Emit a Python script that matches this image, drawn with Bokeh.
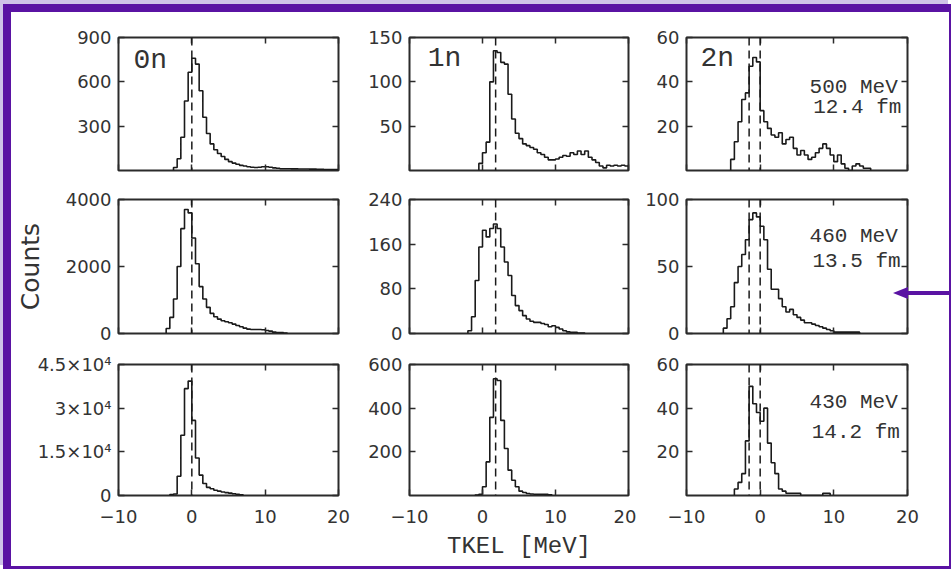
import numpy as np
from bokeh.plotting import figure
from bokeh.layouts import gridplot
from bokeh.models import Range1d, LinearAxis, FixedTicker, Span, Label, CustomLabelingPolicy, InlineStyleSheet
from bokeh.embed import file_html
from bokeh.resources import INLINE

# ---------------- data ----------------
BIN_WIDTH = 0.5
x_ticks = [-10, 0, 10, 20]
x_tick_labels = ["\u221210", "0", "10", "20"]

# 500 MeV, 12.4 fm
start_0n_500 = -2.5
counts_0n_500 = [20, 80, 225, 470, 665, 760, 720, 540, 360, 250,
                 180, 140, 115, 95, 75, 60, 50, 42, 35, 30,
                 25, 22, 20, 22, 25, 25, 22, 18, 15, 12,
                 12, 12, 11, 11, 10, 10, 10, 9, 9, 8,
                 8, 7, 7, 6, 6]
start_1n_500 = -0.5
counts_1n_500 = [8, 20, 32, 100, 135, 133, 122, 120, 86, 58,
                 42, 36, 30, 28, 26, 24, 20, 18, 15, 12,
                 12, 13, 15, 17, 16, 20, 18, 22, 18, 22,
                 15, 12, 9, 5, 3, 6, 5, 6, 5, 6, 5]
start_2n_500 = -4.0
counts_2n_500 = [5, 13, 22, 32, 35, 47, 51, 49, 27, 22,
                 19, 16, 15, 17, 12, 14, 15, 10, 7, 9,
                 7, 5, 6, 8, 10, 12, 10, 7, 4, 7,
                 3, 1, 0, 2, 3, 2, 1, 1]

# 460 MeV, 13.5 fm
start_0n_460 = -3.5
counts_0n_460 = [150, 480, 1030, 2000, 3130, 3700, 3600, 2850, 2080, 1400,
                 1030, 780, 600, 500, 430, 380, 350, 320, 280, 240,
                 200, 160, 130, 120, 120, 120, 110, 90, 70, 40,
                 30, 25, 15]
start_1n_460 = -2.0
counts_1n_460 = [5, 30, 95, 155, 185, 173, 188, 196, 188, 155,
                 128, 104, 68, 50, 41, 32, 26, 22, 20, 20,
                 18, 16, 12, 14, 11, 8, 5, 3, 2, 2, 1, 1]
start_2n_460 = -5.0
counts_2n_460 = [4, 11, 20, 38, 50, 59, 70, 85, 90, 87,
                 80, 70, 48, 33, 33, 26, 20, 16, 18, 14,
                 12, 10, 8, 8, 7, 6, 5, 4, 3, 2,
                 1, 1, 1, 1, 1, 1, 1]

# 430 MeV, 14.2 fm
start_0n_430 = -3.0
counts_0n_430 = [300, 500, 6600, 20700, 36700, 39300, 25800, 12900, 7000, 4100,
                 2800, 2300, 1800, 1500, 1200, 1000, 800, 600, 400, 200]
start_1n_430 = -1.0
counts_1n_430 = [2, 6, 40, 154, 358, 535, 527, 344, 215, 116,
                 70, 40, 20, 14, 9, 7, 6, 6, 6, 5, 3]
start_2n_430 = -3.5
counts_2n_430 = [3, 6, 10, 25, 50, 42, 38, 34, 40, 24,
                 15, 10, 3, 2, 1, 1, 1, 1, 0, 0,
                 0, 0, 0, 0, 1, 1]

# y axes: maxima, ticks, labels
ymax_rows = [[900, 150, 60], [4000, 240, 100], [45000, 600, 60]]
yticks_rows = [
    [[300, 600, 900], [50, 100, 150], [20, 40, 60]],
    [[0, 2000, 4000], [0, 80, 160, 240], [0, 50, 100]],
    [[0, 15000, 30000, 45000], [200, 400, 600], [20, 40, 60]],
]
ylabels_rows = [
    [["300", "600", "900"], ["50", "100", "150"], ["20", "40", "60"]],
    [["0", "2000", "4000"], ["0", "80", "160", "240"], ["0", "50", "100"]],
    [["0", "1.5\u00d710\u2074", "3\u00d710\u2074", "4.5\u00d710\u2074"], ["200", "400", "600"], ["20", "40", "60"]],
]
ref_lines = [[0.0], [1.8], [-1.5, 0.0]]          # dashed reference lines per column
neutron_labels = ["0n", "1n", "2n"]
energy_labels = ["500 MeV", "460 MeV", "430 MeV"]
distance_labels = ["12.4 fm", "13.5 fm", "14.2 fm"]

counts = [[counts_0n_500, counts_1n_500, counts_2n_500],
          [counts_0n_460, counts_1n_460, counts_2n_460],
          [counts_0n_430, counts_1n_430, counts_2n_430]]
starts = [[start_0n_500, start_1n_500, start_2n_500],
          [start_0n_460, start_1n_460, start_2n_460],
          [start_0n_430, start_1n_430, start_2n_430]]

# ---------------- styling / layout ----------------
PURPLE = "#5a13a3"
INK = "#2b2b2b"
TICK_FONT = "DejaVu Sans"
MONO = "Liberation Mono"

col_geo = [(107, 220, 12), (59, 219, 8), (50, 221, 42)]   # border_left, frame_w, border_right
row_geo = [(25, 133, 15), (14, 134, 15), (16, 131, 71)]   # border_top, frame_h, border_bottom

# label positions (data units of each panel)
nlabel_pos = [(-7.95, 744), (-7.5, 126), (-8.1, 50.5)]
elabel_pos = [[(6.7, 37.5), (7.2, 28.5)], [(6.7, 72.4), (7.1, 53.8)], [(6.7, 42.5), (7.0, 28.8)]]

HIDE_LABELS = "for (const i of indices) indices.unset(i)\nreturn indices"


def style_axis(ax, show_labels, overrides=None, standoff=7):
    ax.major_tick_in = 6
    ax.major_tick_out = 0
    ax.minor_tick_in = 0
    ax.minor_tick_out = 0
    ax.major_tick_line_color = INK
    ax.major_tick_line_width = 1.5
    ax.axis_line_color = None
    ax.major_label_standoff = standoff
    ax.major_label_text_font = TICK_FONT
    ax.major_label_text_color = "#333333"
    if show_labels:
        ax.major_label_text_font_size = "18px"
        if overrides:
            ax.major_label_overrides = overrides
    else:
        ax.major_label_text_font_size = "0px"
        ax.major_label_standoff = 0
        ax.major_label_policy = CustomLabelingPolicy(code=HIDE_LABELS)


grid_rows = []
for r in range(3):
    row_figs = []
    for c in range(3):
        bl, fw, br = col_geo[c]
        bt, fh, bb = row_geo[r]
        p = figure(output_backend="svg", toolbar_location=None, tools="",
                   frame_width=fw, frame_height=fh,
                   min_border_left=bl, min_border_right=br,
                   min_border_top=bt, min_border_bottom=bb,
                   x_range=Range1d(-10, 20), y_range=Range1d(0, ymax_rows[r][c]),
                   background_fill_color="white", border_fill_color="white")
        p.grid.visible = False
        p.outline_line_color = INK
        p.outline_line_width = 2
        p.outline_line_alpha = 1

        xb = p.xaxis[0]
        xb.ticker = FixedTicker(ticks=x_ticks)
        style_axis(xb, r == 2, dict(zip(x_ticks, x_tick_labels)), standoff=14)
        yl = p.yaxis[0]
        yl.ticker = FixedTicker(ticks=yticks_rows[r][c])
        style_axis(yl, True, dict(zip(yticks_rows[r][c], ylabels_rows[r][c])))

        xa = LinearAxis(ticker=FixedTicker(ticks=x_ticks))
        style_axis(xa, False)
        p.add_layout(xa, "above")
        yr = LinearAxis(ticker=FixedTicker(ticks=yticks_rows[r][c]))
        style_axis(yr, False)
        p.add_layout(yr, "right")

        # histogram
        cts = np.asarray(counts[r][c], dtype=float)
        edges = starts[r][c] + BIN_WIDTH * np.arange(len(cts) + 1)
        xs = np.concatenate([[edges[0]], edges])
        ys = np.concatenate([[0.0], cts, [0.0]])
        p.step(xs, ys, mode="after", line_color="#1a1a1a", line_width=1.6)

        for loc in ref_lines[c]:
            p.add_layout(Span(location=loc, dimension="height", line_color="#1a1a1a",
                              line_width=1.5, line_dash="8 5"))

        if r == 0:
            nx, ny = nlabel_pos[c]
            p.add_layout(Label(x=nx, y=ny, text=neutron_labels[c], text_font=MONO,
                               text_font_size="28px", text_color="#333333",
                               text_baseline="alphabetic"))
        if c == 2:
            (ex, ey), (dx, dy) = elabel_pos[r]
            p.add_layout(Label(x=ex, y=ey, text=energy_labels[r], text_font=MONO,
                               text_font_size="21px", text_color="#333333",
                               text_baseline="alphabetic"))
            p.add_layout(Label(x=dx, y=dy, text=distance_labels[r], text_font=MONO,
                               text_font_size="21px", text_color="#333333",
                               text_baseline="alphabetic"))
        if r == 1 and c == 0:
            yl.axis_label = "Counts"
            yl.axis_label_text_font = TICK_FONT
            yl.axis_label_text_font_size = "25px"
            yl.axis_label_text_font_style = "normal"
            yl.axis_label_text_color = "#333333"
            yl.axis_label_standoff = 18
        if r == 2 and c == 1:
            xb.axis_label = "TKEL [MeV]"
            xb.axis_label_text_font = MONO
            xb.axis_label_text_font_size = "24px"
            xb.axis_label_text_font_style = "normal"
            xb.axis_label_text_color = "#333333"
            xb.axis_label_standoff = 7
        row_figs.append(p)
    grid_rows.append(row_figs)

# purple frame of the slide, plus the pointer arrow that enters from its right edge
ARROW_CSS = f"""
:host::before {{
  content: ""; position: absolute; left: 882px; top: 275px; width: 0; height: 0;
  border-top: 6px solid transparent; border-bottom: 6px solid transparent;
  border-right: 15px solid {PURPLE}; z-index: 10; pointer-events: none;
}}
:host::after {{
  content: ""; position: absolute; left: 895px; top: 279px; width: 43px; height: 4px;
  background: {PURPLE}; z-index: 10; pointer-events: none;
}}
"""

grid = gridplot(grid_rows, toolbar_location=None)
grid.styles = {
    "position": "relative",
    "margin": "4px 0 0 3px",
    "border-style": "solid",
    "border-color": PURPLE,
    "border-width": "8px 2px 3px 8px",
    "box-shadow": "-3px -4px 0 0 #cfc3e8",
}
grid.stylesheets = [InlineStyleSheet(css=ARROW_CSS)]

open("out.html", "w").write(file_html(grid, INLINE))
